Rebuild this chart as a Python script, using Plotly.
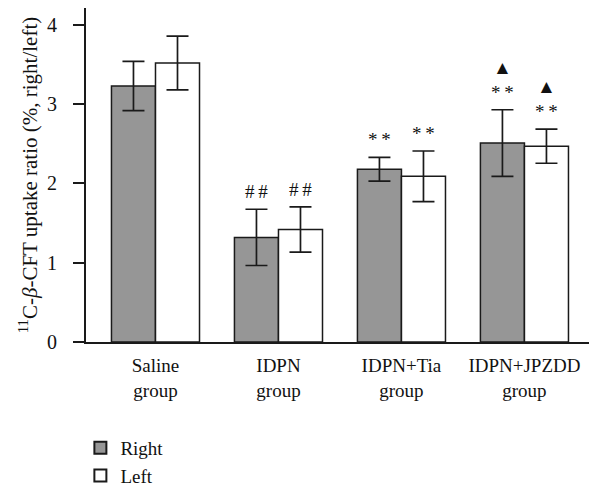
import plotly.graph_objects as go

groups = ["Saline<br>group", "IDPN<br>group", "IDPN+Tia<br>group", "IDPN+JPZDD<br>group"]
right_mean = [3.23, 1.32, 2.18, 2.51]
right_err = [0.31, 0.355, 0.15, 0.42]
left_mean = [3.52, 1.42, 2.09, 2.47]
left_err = [0.34, 0.285, 0.32, 0.215]
right_marks = ["", "#\u2009#", "*\u2009*", "▲<br>*\u2009*"]
left_marks = ["", "#\u2009#", "*\u2009*", "▲<br>*\u2009*"]
yticks = [0, 1, 2, 3, 4]

FONT = "Liberation Serif"
LINE = "#1a1a1a"

fig = go.Figure()
fig.add_trace(go.Bar(
    name="Right", x=groups, y=right_mean,
    marker=dict(color="#969696", line=dict(color=LINE, width=1.5)),
    error_y=dict(type="data", array=right_err, color=LINE, thickness=1.7, width=11),
))
fig.add_trace(go.Bar(
    name="Left", x=groups, y=left_mean,
    marker=dict(color="#ffffff", line=dict(color=LINE, width=1.5)),
    error_y=dict(type="data", array=left_err, color=LINE, thickness=1.7, width=11),
))

for i, g in enumerate(groups):
    for mean, err, marks, shift in ((right_mean, right_err, right_marks, -22),
                                     (left_mean, left_err, left_marks, 22)):
        if marks[i]:
            fig.add_annotation(
                x=g, y=mean[i] + err[i], text=marks[i], showarrow=False,
                xshift=shift, yshift=5, yanchor="bottom", xanchor="center",
                font=dict(family=FONT, size=19, color="#111111"),
            )

fig.update_layout(
    width=589, height=481,
    margin=dict(l=78, r=0, t=0, b=147, autoexpand=False),
    paper_bgcolor="white", plot_bgcolor="white",
    barmode="group", bargap=0.284, bargroupgap=0,
    font=dict(family=FONT, size=20, color="#111111"),
    showlegend=True,
    legend=dict(orientation="v", x=-0.011, xanchor="left", y=-0.26, yanchor="top",
                font=dict(family=FONT, size=19), tracegroupgap=0, itemsizing="constant"),
    xaxis=dict(
        range=[-0.565, 3.59], showline=True, linecolor=LINE, linewidth=2,
        ticks="", showgrid=False, zeroline=False, ticklabelstandoff=5,
        tickfont=dict(family=FONT, size=19), automargin=False,
    ),
    yaxis=dict(
        range=[0, 4.214], showline=True, linecolor=LINE, linewidth=2,
        tickvals=yticks, ticks="outside", ticklen=11, tickwidth=2, tickcolor=LINE,
        showgrid=False, zeroline=False, ticklabelstandoff=12,
        tickfont=dict(family=FONT, size=20), automargin=False,
        title=dict(text="<sup>11</sup>C-<i>β</i>-CFT uptake ratio (%, right/left)",
                   font=dict(family=FONT, size=21), standoff=4),
    ),
)

fig.write_html("out.html")
